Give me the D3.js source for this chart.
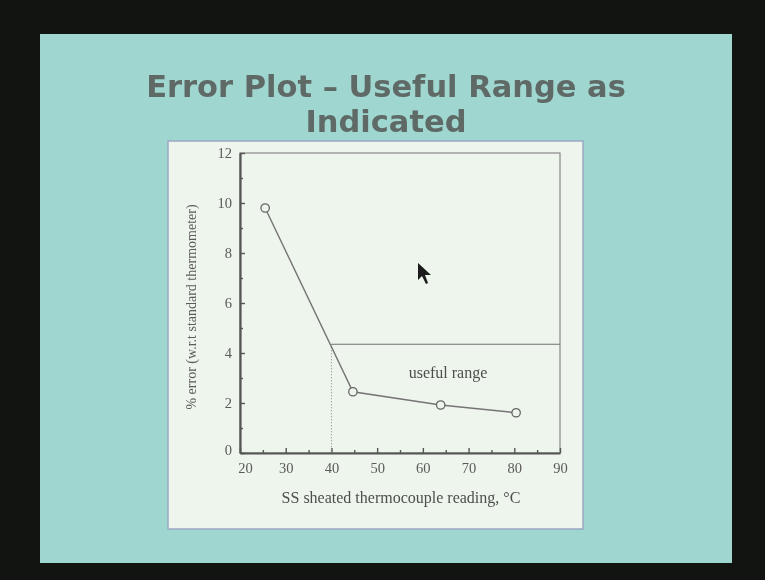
<!DOCTYPE html>
<html>
<head>
<meta charset="utf-8">
<script src="https://cdn.jsdelivr.net/npm/d3@7"></script>
<style>
  html, body { margin: 0; padding: 0; background: #111410; }
  svg { display: block; }
</style>
</head>
<body>
<svg id="slide" width="765" height="580"></svg>
<script>
// readings taken off the slide
const temps = [25.5, 44.7, 63.9, 80.4];
const errors = [9.8, 2.45, 1.92, 1.61];
const xTicks = [20, 30, 40, 50, 60, 70, 80, 90];
const yTicks = [0, 2, 4, 6, 8, 10, 12];
const rangeStart = 40;
const rangeLevel = 4.35;
const titleLines = ['Error Plot \u2013 Useful Range as', 'Indicated'];

const svg = d3.select('#slide');
svg.append('defs').append('filter').attr('id', 'soft')
    .append('feGaussianBlur').attr('stdDeviation', 0.45);

const page = svg.append('g').attr('filter', 'url(#soft)');

// slide area of the video still
page.append('rect').attr('x', 40).attr('y', 34).attr('width', 692).attr('height', 529)
    .attr('fill', '#9fd7d0');

page.selectAll('text.title').data(titleLines).enter().append('text')
    .attr('class', 'title')
    .attr('x', 386)
    .attr('y', function (d, i) { return 97 + i * 35; })
    .attr('text-anchor', 'middle')
    .attr('font-family', 'DejaVu Sans')
    .attr('font-weight', 'bold')
    .attr('font-size', 30.5)
    .attr('fill', '#5f6966')
    .text(function (d) { return d; });

// white chart box
page.append('rect').attr('x', 168).attr('y', 141).attr('width', 415).attr('height', 388)
    .attr('fill', '#eef5ec').attr('stroke', '#9aa8c4').attr('stroke-width', 1.5);

const pl = 240, pr = 560, pt = 153, pb = 453;
const xs = d3.scaleLinear().domain([20, 90]).range([pl, pr]);
const ys = d3.scaleLinear().domain([0, 12]).range([pb, pt]);

const chart = page.append('g');
const axisColor = '#555';
const serif = 'Liberation Serif';

// frame
chart.append('rect').attr('x', pl).attr('y', pt).attr('width', pr - pl).attr('height', pb - pt)
    .attr('fill', 'none').attr('stroke', '#888').attr('stroke-width', 1.2);

// bottom axis, ticks inward
const xAxis = chart.append('g').attr('transform', 'translate(0,' + pb + ')')
    .call(d3.axisBottom(xs).tickValues(xTicks).tickSizeInner(-5).tickSizeOuter(0).tickPadding(10));
xAxis.selectAll('g.tick').filter(function (d) { return d === 20; }).select('text').attr('dx', 5);
chart.append('g').attr('transform', 'translate(0,' + pb + ')')
    .call(d3.axisBottom(xs).tickValues(d3.range(25, 90, 10)).tickSizeInner(-3).tickSizeOuter(0).tickFormat(''))
    .select('.domain').remove();

const yAxis = chart.append('g').attr('transform', 'translate(' + pl + ',0)')
    .call(d3.axisLeft(ys).tickValues(yTicks).tickSizeInner(-5).tickSizeOuter(0).tickPadding(8));
yAxis.selectAll('g.tick').filter(function (d) { return d === 0; }).select('text').attr('dy', '0.1em');
chart.append('g').attr('transform', 'translate(' + pl + ',0)')
    .call(d3.axisLeft(ys).tickValues(d3.range(1, 12, 2)).tickSizeInner(-3).tickSizeOuter(0).tickFormat(''))
    .select('.domain').remove();

chart.selectAll('.domain').attr('stroke', axisColor).attr('stroke-width', 2.2);
chart.selectAll('.tick line').attr('stroke', axisColor).attr('stroke-width', 1.4);
chart.selectAll('.tick text').attr('font-family', serif).attr('font-size', 14.5).attr('fill', '#5a5a5a');

// axis titles
chart.append('text').attr('x', 401).attr('y', 503)
    .attr('text-anchor', 'middle').attr('font-family', serif).attr('font-size', 16).attr('fill', '#4e4e4e')
    .text('SS sheated thermocouple reading, \u00b0C');
chart.append('text')
    .attr('transform', 'translate(196,307) rotate(-90)')
    .attr('text-anchor', 'middle').attr('font-family', serif).attr('font-size', 14).attr('fill', '#5c5c5c')
    .text('% error (w.r.t standard thermometer)');

// useful range marker
chart.append('line').attr('x1', xs(rangeStart)).attr('x2', xs(90))
    .attr('y1', ys(rangeLevel)).attr('y2', ys(rangeLevel))
    .attr('stroke', '#707070').attr('stroke-width', 1.1);
chart.append('line').attr('x1', xs(rangeStart)).attr('x2', xs(rangeStart))
    .attr('y1', ys(rangeLevel)).attr('y2', ys(0))
    .attr('stroke', '#888').attr('stroke-width', 1).attr('stroke-dasharray', '1,2');
chart.append('text').attr('x', xs(65.5)).attr('y', ys(3.0)).attr('text-anchor', 'middle')
    .attr('font-family', serif).attr('font-size', 16).attr('fill', '#4e4e4e')
    .text('useful range');

// data line and open circles
const line = d3.line()
    .x(function (d, i) { return xs(temps[i]); })
    .y(function (d) { return ys(d); });
chart.append('path').datum(errors).attr('d', line)
    .attr('fill', 'none').attr('stroke', '#747474').attr('stroke-width', 1.4);
chart.selectAll('circle').data(errors).enter().append('circle')
    .attr('cx', function (d, i) { return xs(temps[i]); })
    .attr('cy', function (d) { return ys(d); })
    .attr('r', 4.2)
    .attr('fill', '#eef5ec').attr('stroke', '#666').attr('stroke-width', 1.3);

// mouse pointer captured in the frame
page.append('path')
    .attr('d', 'M418,263 L418,280 L422,276 L426,284 L428,283 L425,275 L431,275 Z')
    .attr('fill', '#1a1a1a');
</script>
</body>
</html>
